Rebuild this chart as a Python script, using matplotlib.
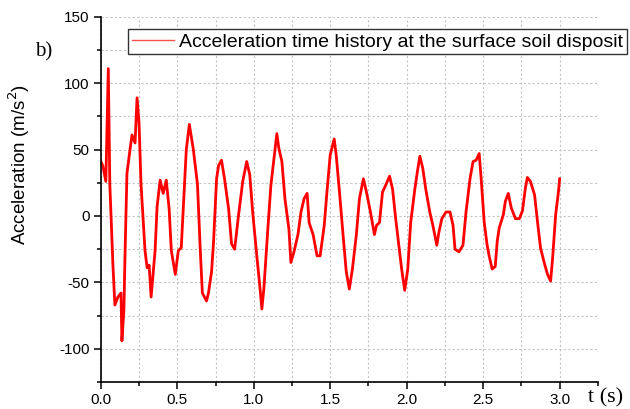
#!/usr/bin/env python3

import matplotlib
matplotlib.use('Agg')
import matplotlib.pyplot as plt
from matplotlib.ticker import MultipleLocator

# values (t in s, acceleration in m/s2)
t_s = [
    0.000, 0.013, 0.033, 0.049, 0.059, 0.079, 0.092, 0.112, 0.132, 0.138,
    0.151, 0.158, 0.171, 0.191, 0.204, 0.224, 0.237, 0.250, 0.263, 0.289,
    0.303, 0.316, 0.329, 0.355, 0.368, 0.388, 0.408, 0.428, 0.447, 0.461,
    0.487, 0.507, 0.526, 0.546, 0.559, 0.579, 0.605, 0.632, 0.651, 0.664,
    0.691, 0.704, 0.724, 0.737, 0.757, 0.770, 0.789, 0.809, 0.836, 0.855,
    0.875, 0.901, 0.928, 0.954, 0.974, 0.993, 1.020, 1.039, 1.053, 1.066,
    1.092, 1.112, 1.132, 1.151, 1.164, 1.184, 1.204, 1.230, 1.243, 1.263,
    1.289, 1.309, 1.329, 1.349, 1.362, 1.388, 1.414, 1.434, 1.461, 1.480,
    1.500, 1.526, 1.539, 1.559, 1.586, 1.605, 1.625, 1.645, 1.671, 1.691,
    1.717, 1.737, 1.763, 1.789, 1.803, 1.822, 1.842, 1.862, 1.888, 1.908,
    1.928, 1.954, 1.967, 1.987, 2.007, 2.026, 2.053, 2.072, 2.086, 2.105,
    2.125, 2.151, 2.171, 2.197, 2.211, 2.230, 2.257, 2.283, 2.303, 2.316,
    2.342, 2.368, 2.388, 2.414, 2.434, 2.454, 2.474, 2.487, 2.507, 2.526,
    2.539, 2.559, 2.579, 2.592, 2.605, 2.632, 2.645, 2.664, 2.684, 2.711,
    2.737, 2.757, 2.776, 2.789, 2.809, 2.836, 2.855, 2.875, 2.901, 2.921,
    2.941, 2.954, 2.974, 2.993, 3.000,
]
accel = [
    41, 38, 26, 111, 24, -36, -67, -61, -58, -94,
    -71, -31, 32, 50, 61, 55, 89, 70, 24, -26,
    -39, -37, -61, -26, 7, 27, 17, 27, 5, -26,
    -44, -26, -24, 20, 50, 69, 50, 24, -27, -58,
    -64, -58, -42, -20, 28, 38, 42, 28, 5, -21,
    -25, 1, 26, 41, 31, 3, -30, -52, -70, -55,
    -10, 23, 43, 62, 51, 41, 13, -10, -35, -27,
    -14, 3, 13, 17, -5, -14, -30, -30, -7, 20,
    46, 58, 46, 20, -17, -42, -55, -40, -14, 13,
    28, 18, 3, -14, -7, -5, 18, 23, 30, 20,
    -2, -27, -40, -56, -40, -5, 20, 35, 45, 36,
    20, 3, -7, -22, -12, -2, 3, 3, -7, -25,
    -27, -22, 3, 28, 41, 42, 47, 28, -5, -22,
    -30, -40, -38, -19, -9, 1, 11, 17, 6, -2,
    -2, 4, 21, 29, 26, 16, -4, -24, -36, -44,
    -49, -32, 1, 19, 28,
]
legend_label = 'Acceleration time history at the surface soil disposit'

plt.rcParams['font.family'] = 'Liberation Sans'
plt.rcParams['font.size'] = 11

fig = plt.figure(figsize=(6.3, 4.09), dpi=100)
ax = fig.add_axes([0.160, 0.066, 0.789, 0.893])

ax.plot(t_s, accel, color='#ff0000', linewidth=2.0, label=legend_label)

ax.set_xlim(0, 3.25)
ax.set_ylim(-125, 150)
ax.xaxis.set_major_locator(MultipleLocator(0.5))
ax.xaxis.set_minor_locator(MultipleLocator(0.25))
ax.yaxis.set_major_locator(MultipleLocator(50))
ax.yaxis.set_minor_locator(MultipleLocator(25))
ax.xaxis.set_major_formatter(lambda v, _: '%.1f' % v)
ax.yaxis.set_major_formatter(lambda v, _: '%d' % v)

for side in ('top', 'right'):
        ax.spines[side].set_visible(False)
for side in ('left', 'bottom'):
        ax.spines[side].set_linewidth(1.2)
ax.tick_params(which='major', direction='out', length=5, width=1.1,
               pad=3)
ax.tick_params(which='minor', direction='out', length=3, width=1.1)

ax.grid(True, which='both', color='#c4c4c4', linestyle=(0, (2, 2)),
        linewidth=0.8)
ax.set_axisbelow(True)

ax.set_ylabel('Acceleration (m/s$^2$)', fontsize=13.5)
ax.yaxis.set_label_coords(-0.138, 0.595)

fig.text(0.055, 0.873, 'b)', family='Liberation Serif', fontsize=15,
         ha='left', va='center')
fig.text(0.933, 0.028, 't (s)', family='Liberation Serif', fontsize=16,
         ha='left', va='center')

leg = ax.legend(loc='upper left', bbox_to_anchor=(0.203, 0.929),
                bbox_transform=fig.transFigure, fontsize=14,
                fancybox=False, framealpha=1, edgecolor='#333333',
                handlelength=2.15, handletextpad=0.3, borderpad=0.2,
                borderaxespad=0)
leg.get_frame().set_linewidth(1.0)
leg.get_lines()[0].set_linewidth(1.0)
leg.get_lines()[0].set_color('#ff5050')

plt.savefig('out.png')
